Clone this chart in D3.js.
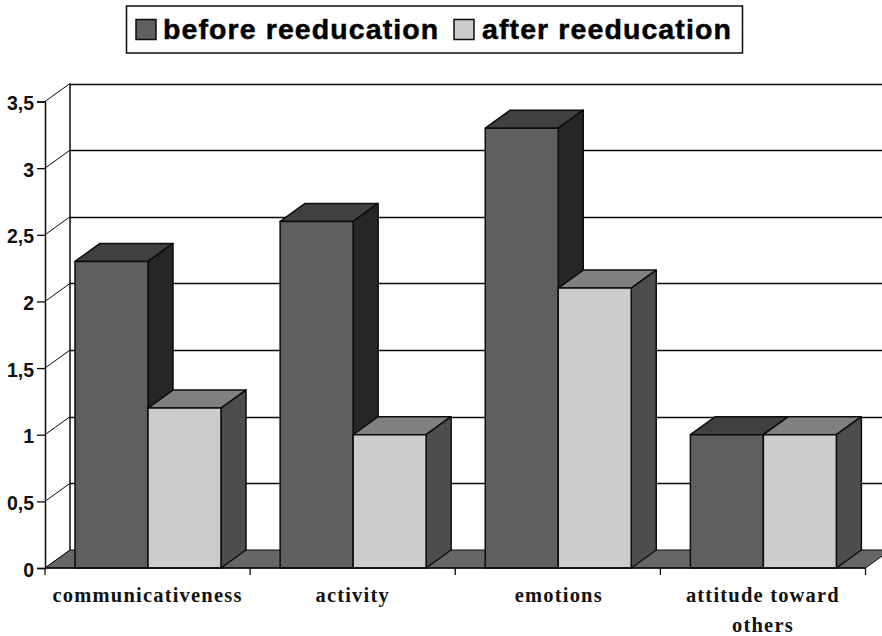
<!DOCTYPE html>
<html><head><meta charset="utf-8">
<script src="https://cdnjs.cloudflare.com/ajax/libs/d3/7.8.5/d3.min.js"></script>
<style>html,body{margin:0;padding:0;background:#fff}svg{display:block}</style>
</head><body><svg id="c" width="882" height="636"></svg>
<script>
const categories = ["communicativeness","activity","emotions","attitude toward|others"];
const seriesNames = ["before reeducation","after reeducation"];
const before = [2.3,2.6,3.3,1];
const after = [1.2,1,2.1,1];
const yTicks = [0,0.5,1,1.5,2,2.5,3,3.5];
const yLabels = ["0","0,5","1","1,5","2","2,5","3","3,5"];

const svg = d3.select("#c");
const dx = 25, dy = -18;
const y = d3.scaleLinear().domain([0,3.5]).range([568,101.5]);
const x = d3.scaleBand().domain(categories).range([45,865.5]);
const barOuter = d3.scaleBand().domain([0,1]).range([30,176]);
const colors = [
  {front:"#5f5f5f",top:"#404040",side:"#262626"},
  {front:"#cccccc",top:"#808080",side:"#4d4d4d"}
];
const ink = "#0c0c0c";
const poly = pts => pts.map(p=>p.join(",")).join(" ");
const x0 = x.range()[0], x1 = x.range()[1], y0 = y(0);

// gridlines on back wall and on the left wall
svg.selectAll("line.grid").data(yTicks.slice(1)).join("line")
  .attr("x1",x0+dx).attr("x2",882).attr("y1",d=>Math.round(y(d)+dy)+0.5).attr("y2",d=>Math.round(y(d)+dy)+0.5)
  .attr("stroke",ink).attr("stroke-width",1.5);
svg.selectAll("line.wall").data(yTicks).join("line")
  .attr("x1",x0).attr("x2",x0+dx).attr("y1",d=>y(d)).attr("y2",d=>y(d)+dy)
  .attr("stroke",ink).attr("stroke-width",1);
svg.append("line").attr("x1",x0+dx).attr("x2",x0+dx).attr("y1",y(3.5)+dy).attr("y2",y0+dy)
  .attr("stroke",ink).attr("stroke-width",1.5);

// floor
svg.append("polygon").attr("points",poly([[x0,y0],[x0+dx,y0+dy],[x1+dx,y0+dy],[x1,y0]]))
  .attr("fill","#666").attr("stroke",ink).attr("stroke-width",1);

// bars
categories.forEach((c,i)=>{
  [before[i],after[i]].forEach((v,s)=>{
    const l = x(c)+barOuter(s), w = barOuter.bandwidth(), r = l+w, t = y(v), col = colors[s];
    const g = svg.append("g").attr("stroke",ink).attr("stroke-width",1.5).attr("stroke-linejoin","round");
    g.append("polygon").attr("points",poly([[l,t],[l+dx,t+dy],[r+dx,t+dy],[r,t]])).attr("fill",col.top);
    g.append("polygon").attr("points",poly([[r,t],[r+dx,t+dy],[r+dx,y0+dy],[r,y0]])).attr("fill",col.side);
    g.append("rect").attr("x",l).attr("y",t).attr("width",w).attr("height",y0-t).attr("fill",col.front);
  });
});

// y axis
const axL = d3.axisLeft(y).tickValues(yTicks).tickSize(8).tickPadding(3).tickFormat((d,i)=>yLabels[i]);
const gy = svg.append("g").attr("transform",`translate(${x0},0)`).call(axL);
gy.select(".domain").attr("stroke",ink).attr("stroke-width",1.5);
gy.selectAll("line").attr("stroke",ink).attr("stroke-width",1.3);
gy.selectAll("text").attr("font-family","'Liberation Sans',Arial,sans-serif").attr("font-weight","bold")
  .attr("font-size",19.5).attr("fill","#111").attr("dy","0.42em");

// x axis
svg.append("line").attr("x1",x0).attr("x2",x1).attr("y1",y0).attr("y2",y0).attr("stroke",ink).attr("stroke-width",1.5);
svg.selectAll("line.xt").data(d3.range(categories.length+1)).join("line")
  .attr("x1",i=>x0+i*x.bandwidth()).attr("x2",i=>x0+i*x.bandwidth())
  .attr("y1",y0).attr("y2",y0+7).attr("stroke",ink).attr("stroke-width",1.3);
categories.forEach(c=>{
  c.split("|").forEach((t,k)=>{
    svg.append("text").attr("x",x(c)+x.bandwidth()/2+(c.startsWith("emo")?1:0)).attr("y",602+k*30)
      .attr("text-anchor","middle").attr("font-family","'Liberation Serif',serif").attr("font-weight","bold")
      .attr("font-size",20.5).attr("letter-spacing",1.2).attr("fill","#111").text(t);
  });
});

// legend
const leg = svg.append("g");
leg.append("rect").attr("x",126.5).attr("y",6).attr("width",616).attr("height",47).attr("fill","#fff").attr("stroke",ink).attr("stroke-width",1.5);
const legX = [[136,163],[454,482]];
seriesNames.forEach((n,i)=>{
  leg.append("rect").attr("x",legX[i][0]).attr("y",19.5).attr("width",20).attr("height",20).attr("fill",colors[i].front).attr("stroke",ink).attr("stroke-width",1.5);
  leg.append("text").attr("x",legX[i][1]).attr("y",39).attr("font-family","'Liberation Sans',Arial,sans-serif").attr("font-weight","bold")
    .attr("font-size",28.5).attr("letter-spacing",1.1).attr("stroke","#000").attr("stroke-width",0.5).attr("fill","#000").text(n);
});
</script></body></html>
